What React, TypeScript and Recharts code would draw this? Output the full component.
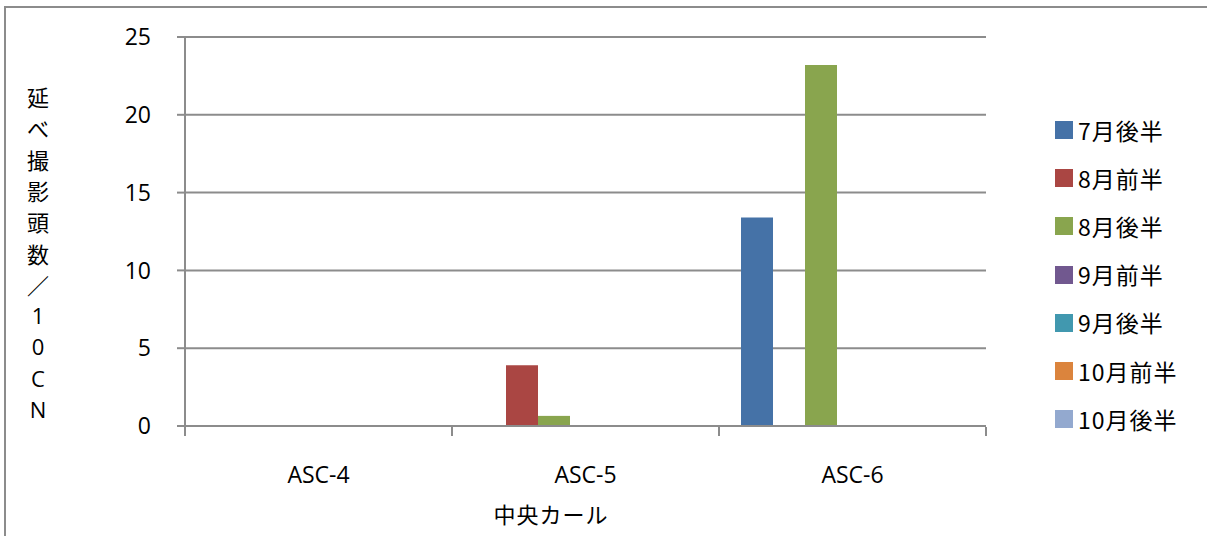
import React from 'react';
import { BarChart, Bar, XAxis, YAxis, CartesianGrid, Legend } from 'recharts';

const categories = ['ASC-4', 'ASC-5', 'ASC-6'];
const seriesNames = ['7月後半', '8月前半', '8月後半', '9月前半', '9月後半', '10月前半', '10月後半'];
const jul2 = [0, 0, 13.4];
const aug1 = [0, 3.9, 0];
const aug2 = [0, 0.65, 23.2];
const sep1 = [0, 0, 0];
const sep2 = [0, 0, 0];
const oct1 = [0, 0, 0];
const oct2 = [0, 0, 0];
const seriesValues = [jul2, aug1, aug2, sep1, sep2, oct1, oct2];
const colors = ['#4572A7', '#AA4643', '#89A54E', '#71588F', '#4198AF', '#DB843D', '#93A9CF'];
const yTicks = [0, 5, 10, 15, 20, 25];
const boundaryTicks = [0, 1, 2, 3];
const yTitleChars = ['延', 'べ', '撮', '影', '頭', '数', '／', '1', '0', 'C', 'N'];
const xTitle = '中央カール';

const data = categories.map((c, i) => {
  const row: Record<string, any> = { name: c, idx: i + 0.5 };
  seriesNames.forEach((s, k) => {
    row[s] = seriesValues[k][i];
  });
  return row;
});

const GRAY = '#8c8c8c';
const NUM_FONT = '"Open Sans", sans-serif';
const CJK_FONT = '"Noto Sans CJK JP", sans-serif';

const YTitle = () => (
  <g>
    {yTitleChars.map((ch, i) => (
      <text
        key={i}
        x={38}
        y={96 + i * 31.3}
        textAnchor="middle"
        dominantBaseline="central"
        fontSize={22}
        fontFamily={/[0-9A-Z]/.test(ch) ? NUM_FONT : CJK_FONT}
        fill="#000"
      >
        {ch}
      </text>
    ))}
  </g>
);

const XTitle = () => (
  <text x={551} y={513} textAnchor="middle" dominantBaseline="central" fontSize={22} letterSpacing={1} fontFamily={CJK_FONT} fill="#000">
    {xTitle}
  </text>
);

const CatTick = (props: any) => {
  const { x, y, payload } = props;
  return (
    <text x={x} y={y + 40} textAnchor="middle" dominantBaseline="central" fontSize={23} fontFamily={NUM_FONT} fill="#000">
      {payload.value}
    </text>
  );
};

const EmptyTick = () => <g />;

const LegendContent = () => (
  <div>
    {seriesNames.map((s, i) => (
      <div key={s} style={{ display: 'flex', alignItems: 'center', height: 48.2 }}>
        <div style={{ width: 18, height: 18, background: colors[i], marginRight: 5 }} />
        <span style={{ fontFamily: CJK_FONT, fontSize: 23, letterSpacing: 1, color: '#000', lineHeight: '23px' }}>{s}</span>
      </div>
    ))}
  </div>
);

export default function App() {
  return (
    <div style={{ position: 'absolute', left: 0, top: 0, width: 1207, height: 536, overflow: 'hidden', background: '#fff' }}>
      <div style={{ position: 'absolute', left: 4, top: 6, width: 1201, height: 560, border: `2px solid ${GRAY}` }} />
      <div style={{ position: 'absolute', left: 0, top: 0 }}>
        <BarChart
          width={1207}
          height={536}
          data={data}
          margin={{ top: 37, right: 221, left: 0, bottom: 108 }}
          barCategoryGap={22}
          barGap={0}
        >
          <CartesianGrid vertical={false} stroke={GRAY} strokeWidth={2} />
          <XAxis
            xAxisId="ticks"
            dataKey="idx"
            type="number"
            domain={[0, 3]}
            ticks={boundaryTicks}
            interval={0}
            height={1}
            tick={<EmptyTick />}
            tickSize={9}
            tickLine={{ stroke: GRAY, strokeWidth: 2 }}
            axisLine={false}
          />
          <XAxis
            dataKey="name"
            height={1}
            tickLine={false}
            axisLine={{ stroke: GRAY, strokeWidth: 2 }}
            tick={<CatTick />}
            interval={0}
            label={{ content: () => <XTitle /> } as any}
          />
          <YAxis
            width={185}
            domain={[0, 25]}
            ticks={yTicks}
            interval={0}
            tickSize={8}
            tickMargin={26}
            tickLine={{ stroke: GRAY, strokeWidth: 2 }}
            axisLine={{ stroke: GRAY, strokeWidth: 2 }}
            tick={{ fontSize: 23, fontFamily: NUM_FONT, fill: '#000' }}
            label={{ content: () => <YTitle /> } as any}
          />
          <Legend
            layout="horizontal"
            verticalAlign="middle"
            align="center"
            content={<LegendContent />}
            wrapperStyle={{ left: 1055, top: 106, width: 150, height: 340 }}
          />
          {seriesNames.map((s, k) => (
            <Bar key={s} dataKey={s} name={s} fill={colors[k]} isAnimationActive={false} />
          ))}
        </BarChart>
      </div>
    </div>
  );
}
